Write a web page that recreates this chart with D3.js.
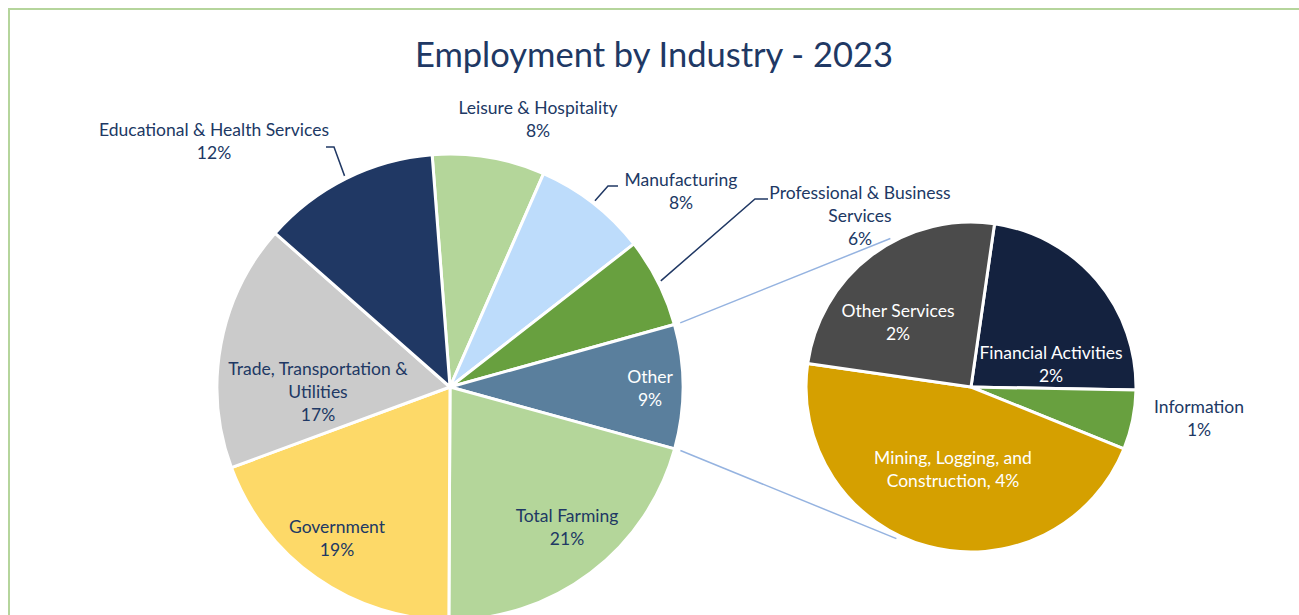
<!DOCTYPE html>
<html>
<head>
<meta charset="utf-8">
<script src="https://cdn.jsdelivr.net/npm/d3@7"></script>
<style>
  html, body { margin: 0; padding: 0; background: #fff; overflow: hidden; }
  svg { display: block; }
  text { font-family: Lato, "Open Sans", "Noto Sans", sans-serif; }
</style>
</head>
<body>
<svg id="chart" width="1299" height="615"></svg>
<script>
// ---- Data: share of 2023 employment by industry (percent) ----
const chartTitle = "Employment by Industry - 2023";

const mainCategories = [
  "Leisure & Hospitality",
  "Manufacturing",
  "Professional & Business Services",
  "Other",
  "Total Farming",
  "Government",
  "Trade, Transportation & Utilities",
  "Educational & Health Services"
];
const mainShares = [7.8, 7.9, 6.2, 8.6, 20.8, 19.3, 17.1, 12.3];
const mainColors = ["#b4d69a", "#bddcfb", "#68a03f", "#5a7f9d", "#b4d69a", "#fdd968", "#cbcbcb", "#203864"];

// Breakdown of the "Other" slice
const otherCategories = [
  "Financial Activities",
  "Information",
  "Mining, Logging, and Construction",
  "Other Services"
];
const otherShares = [1.98, 0.5, 3.97, 2.15];
const otherColors = ["#14223f", "#68a03f", "#d5a000", "#4b4b4b"];

// ---- Layout ----
const navy = "#203864";
const deg = Math.PI / 180;
const mainCenter = [450, 387], mainR = 233;
const subCenter = [971, 387], subR = 165;
const mainStart = -4.4 * deg;
const subStart = 8.2 * deg;
const lineH = 23;
const labelSize = 17.5;

const pct = v => Math.round(v) + "%";

// label placement relative to each pie's centre (block centre), with line breaks
const mainLabelLayout = {
  "Leisure & Hospitality": { lines: ["Leisure & Hospitality"], at: [88, -268], fill: navy },
  "Manufacturing": { lines: ["Manufacturing"], at: [231, -196], fill: navy,
                     leader: { from: [168, -201], elbow: [158, -201] } },
  "Professional & Business Services": { lines: ["Professional & Business", "Services"], at: [410, -171.5], fill: navy,
                     leader: { from: [318, -188], elbow: [305, -188] } },
  "Other": { lines: ["Other"], at: [200, 1], fill: "#ffffff" },
  "Total Farming": { lines: ["Total Farming"], at: [117, 140], fill: navy },
  "Government": { lines: ["Government"], at: [-113, 151], fill: navy },
  "Trade, Transportation & Utilities": { lines: ["Trade, Transportation &", "Utilities"], at: [-132, 4.5], fill: navy },
  "Educational & Health Services": { lines: ["Educational & Health Services"], at: [-236, -246], fill: navy,
                     leader: { from: [-124, -240], elbow: [-116, -240] } }
};
const subLabelLayout = {
  "Financial Activities": { lines: ["Financial Activities"], at: [80, -23], fill: "#ffffff" },
  "Information": { lines: ["Information"], at: [228, 31], fill: navy },
  "Mining, Logging, and Construction": { lines: ["Mining, Logging, and", "Construction"], inline: true, at: [-18, 82], fill: "#ffffff" },
  "Other Services": { lines: ["Other Services"], at: [-73, -65], fill: "#ffffff" }
};

const svg = d3.select("#chart");

// chart frame
svg.append("rect")
  .attr("x", 9).attr("y", 9)
  .attr("width", 1400).attr("height", 700)
  .attr("fill", "none")
  .attr("stroke", "#b5d59c")
  .attr("stroke-width", 2);

// title
svg.append("text")
  .attr("x", 654).attr("y", 53)
  .attr("text-anchor", "middle")
  .attr("dominant-baseline", "central")
  .attr("font-size", 34.5)
  .attr("fill", navy)
  .text(chartTitle);

const mainData = mainCategories.map((c, i) => ({ name: c, value: mainShares[i], color: mainColors[i] }));
const subData = otherCategories.map((c, i) => ({ name: c, value: otherShares[i], color: otherColors[i] }));

const mainPie = d3.pie().sort(null).value(d => d.value)
  .startAngle(mainStart).endAngle(mainStart + 2 * Math.PI);
const subPie = d3.pie().sort(null).value(d => d.value)
  .startAngle(subStart).endAngle(subStart + 2 * Math.PI);

const mainArcs = mainPie(mainData);
const subArcs = subPie(subData);

const polar = (c, a, r) => [c[0] + r * Math.sin(a), c[1] - r * Math.cos(a)];

// connector lines between the "Other" slice and the breakdown pie
const otherArc = mainArcs.find(d => d.data.name === "Other");
const connectors = [
  [polar(mainCenter, otherArc.startAngle, mainR + 6), polar(subCenter, -28.5 * deg, subR + 4)],
  [polar(mainCenter, otherArc.endAngle, mainR + 6), polar(subCenter, 206.2 * deg, subR + 4)]
];
svg.append("g").selectAll("line").data(connectors).join("line")
  .attr("x1", d => d[0][0]).attr("y1", d => d[0][1])
  .attr("x2", d => d[1][0]).attr("y2", d => d[1][1])
  .attr("stroke", "#95b3e0")
  .attr("stroke-width", 1.5);

const mainArc = d3.arc().innerRadius(0).outerRadius(mainR);
const subArc = d3.arc().innerRadius(0).outerRadius(subR);

const gMain = svg.append("g").attr("transform", `translate(${mainCenter})`);
gMain.selectAll("path").data(mainArcs).join("path")
  .attr("d", mainArc)
  .attr("fill", d => d.data.color)
  .attr("stroke", "#fff")
  .attr("stroke-width", 3)
  .attr("stroke-linejoin", "round");

const gSub = svg.append("g").attr("transform", `translate(${subCenter})`);
gSub.selectAll("path").data(subArcs).join("path")
  .attr("d", subArc)
  .attr("fill", d => d.data.color)
  .attr("stroke", "#fff")
  .attr("stroke-width", 3)
  .attr("stroke-linejoin", "round");

// leader lines: from label to slice edge at the slice's mid angle
const leaderArc = d3.arc().innerRadius(mainR + 3).outerRadius(mainR + 3);
mainArcs.forEach(d => {
  const lay = mainLabelLayout[d.data.name];
  if (!lay.leader) return;
  const end = leaderArc.centroid(d);
  gMain.append("polyline")
    .attr("points", [lay.leader.from, lay.leader.elbow, end].map(p => p.join(",")).join(" "))
    .attr("fill", "none")
    .attr("stroke", navy)
    .attr("stroke-width", 1.5);
});

function drawLabels(g, arcs, layout) {
  arcs.forEach(d => {
    const lay = layout[d.data.name];
    let lines = lay.lines.slice();
    if (lay.inline) lines[lines.length - 1] += ", " + pct(d.data.value);
    else lines.push(pct(d.data.value));
    const y0 = lay.at[1] - (lines.length - 1) * lineH / 2;
    const t = g.append("text")
      .attr("text-anchor", "middle")
      .attr("font-size", labelSize)
      .attr("fill", lay.fill);
    lines.forEach((ln, i) => {
      t.append("tspan")
        .attr("x", lay.at[0])
        .attr("y", y0 + i * lineH)
        .attr("dominant-baseline", "central")
        .text(ln);
    });
  });
}
drawLabels(gMain, mainArcs, mainLabelLayout);
drawLabels(gSub, subArcs, subLabelLayout);
</script>
</body>
</html>
